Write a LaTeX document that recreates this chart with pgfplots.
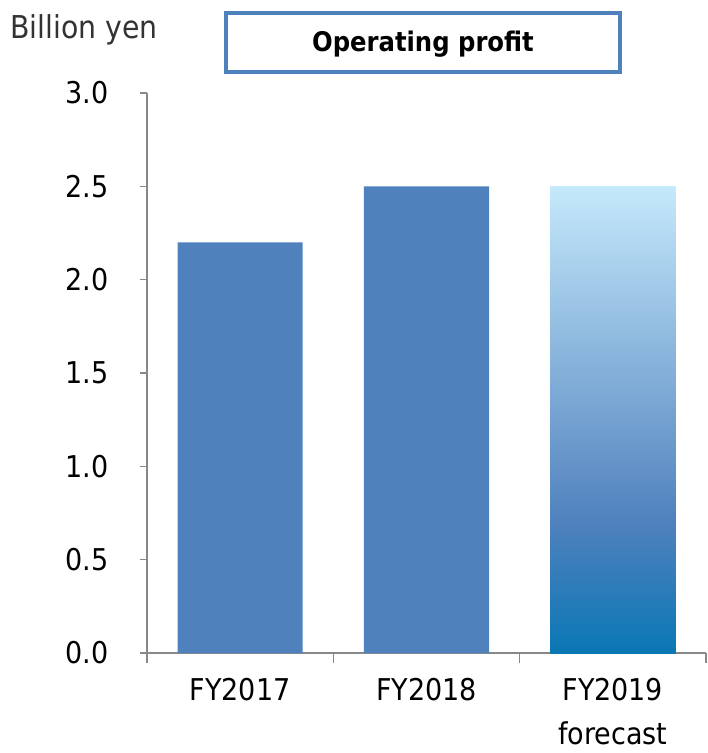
\documentclass[border=0pt]{standalone}
\usepackage{fontspec}
\setmainfont{DejaVu Sans Condensed}
\usepackage{pgfplots}
\pgfplotsset{compat=1.18}
\definecolor{barblue}{HTML}{4F81BD}
\definecolor{fcbot}{HTML}{0A77B5}
\definecolor{fcmid}{HTML}{4F81BD}
\definecolor{fctop}{HTML}{C5E9FB}
\definecolor{axgray}{HTML}{888888}
\pgfdeclareverticalshading{fcast}{100bp}{color(0bp)=(fcbot); color(25bp)=(fcbot); color(39bp)=(fcmid); color(75bp)=(fctop); color(100bp)=(fctop)}
\begin{document}
\begin{tikzpicture}
\begin{axis}[
  at={(0pt,0pt)}, anchor=south west,
  scale only axis, width=559pt, height=560pt,
  xmin=-0.5, xmax=2.5, ymin=0, ymax=3,
  axis x line*=bottom, axis y line*=left,
  axis line style={axgray, line width=1.5pt},
  every tick/.style={axgray, line width=1.5pt},
  xtick={0,1,2},
  xticklabels={FY2017,FY2018,{FY2019\\[8pt]forecast}},
  major x tick style={draw=none},
  minor xtick={-0.5,0.5,1.5,2.5},
  ytick={0,0.5,...,3},
  tick align=outside,
  major tick length=7pt,
  minor tick length=10pt,
  x tick label style={align=center, font=\fontsize{30}{36}\selectfont, yshift=-15pt},
  y tick label style={font=\fontsize{30}{36}\selectfont, xshift=-28pt},
  /pgf/number format/.cd, fixed, fixed zerofill, precision=1, assume math mode=true,
]
\addplot[ybar, bar width=125pt, bar shift=0pt, fill=barblue, draw=none] coordinates {(0,2.2) (1,2.5)};
\addplot[ybar, bar width=125pt, bar shift=0pt, draw=none, shade, shading=fcast] coordinates {(2,2.5)};
\end{axis}
\node[anchor=west, font=\fontsize{31.5}{36}\selectfont, text=black!80, inner sep=0pt] at (-137pt,623pt) {Billion yen};
\draw[barblue, line width=4pt] (79pt,581pt) rectangle (473pt,640pt);
\node[font=\fontsize{27}{32}\selectfont\bfseries] at (276pt,609pt) {Operating profit};
\pgfresetboundingbox
\path[use as bounding box] (-147pt,-100pt) rectangle (561pt,653pt);
\end{tikzpicture}
\end{document}
